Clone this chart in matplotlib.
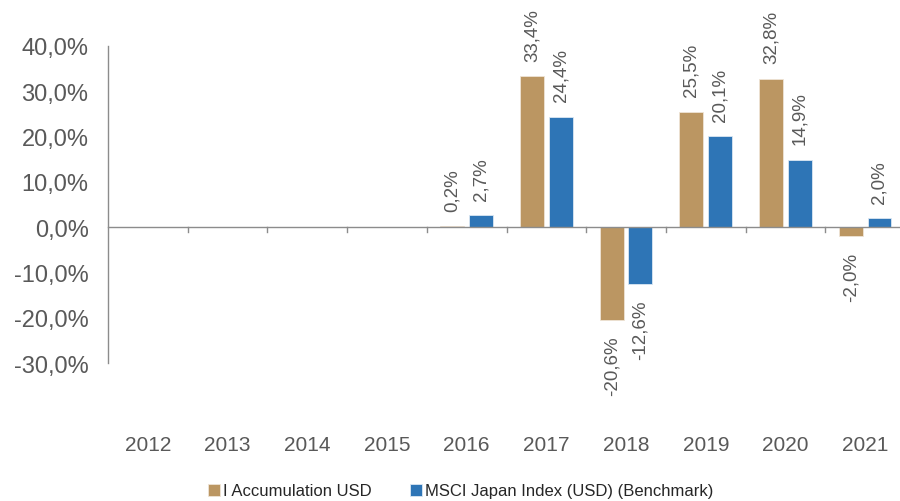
import numpy as np
import matplotlib
matplotlib.use("Agg")
import matplotlib.pyplot as plt

plt.rcParams['font.family'] = ['Liberation Sans', 'DejaVu Sans']

years = ["2012", "2013", "2014", "2015", "2016", "2017", "2018", "2019", "2020", "2021"]
fund = [np.nan, np.nan, np.nan, np.nan, 0.2, 33.4, -20.6, 25.5, 32.8, -2.0]
bench = [np.nan, np.nan, np.nan, np.nan, 2.7, 24.4, -12.6, 20.1, 14.9, 2.0]
series_names = ["I Accumulation USD", "MSCI Japan Index (USD) (Benchmark)"]
yticks = [40, 30, 20, 10, 0, -10, -20, -30]

c_fund = "#BB9662"
c_bench = "#2E75B6"
gray = "#595959"

fig = plt.figure(figsize=(9, 5.02), dpi=100)
W, H = 900, 502
left, right = 108, 905
top_px, bot_px = 47, 364
ax = fig.add_axes([left / W, (H - bot_px) / H, (right - left) / W, (bot_px - top_px) / H])

x = np.arange(len(years))
off = 0.18
w = 0.30
b1 = ax.bar(x - off, fund, w, color=c_fund, edgecolor="#efe4d6", linewidth=0.6, label=series_names[0])
b2 = ax.bar(x + off, bench, w, color=c_bench, edgecolor="#dbe7f3", linewidth=0.6, label=series_names[1])

def fmt(v):
    return f"{v:.1f}%".replace(".", ",")

for xs, vals in ((x - off, fund), (x + off, bench)):
    for xi, v in zip(xs, vals):
        if np.isnan(v):
            continue
        if v >= 0:
            ax.annotate(fmt(v), (xi, v), xytext=(0, 11), textcoords="offset points",
                        rotation=90, ha="center", va="bottom", fontsize=13.5, color=gray,
                        annotation_clip=False)
        else:
            ax.annotate(fmt(v), (xi, v), xytext=(0, -11), textcoords="offset points",
                        rotation=90, ha="center", va="top", fontsize=13.5, color=gray,
                        annotation_clip=False)

ax.set_xlim(-0.5, len(years) - 0.5)
ax.set_ylim(-30, 40)
ax.set_yticks(yticks)
ax.set_yticklabels([fmt(t) for t in yticks], fontsize=17, color=gray)
ax.tick_params(axis="y", length=0, pad=14)

for s in ["top", "right", "bottom"]:
    ax.spines[s].set_visible(False)
ax.spines["left"].set_color("#8c8c8c")
ax.spines["left"].set_linewidth(1.0)

ax.axhline(0, color="#8c8c8c", linewidth=1.0, clip_on=False)
for b in np.arange(0.5, len(years) - 0.5, 1.0):
    ax.plot([b, b], [0, -1.1], color="#8c8c8c", linewidth=1.0, clip_on=False)

ax.set_xticks(x)
ax.set_xticklabels([])
ax.tick_params(axis="x", length=0)
for xi, yr in zip(x, years):
    ax.text(xi, -48.0, yr, ha="center", va="center", fontsize=15, color=gray)

leg = fig.legend(handles=[b1, b2], labels=series_names, loc="center", bbox_to_anchor=(461 / W, 1 - 492 / H),
                 ncol=2, frameon=False, fontsize=12, handlelength=0.7, handleheight=0.7,
                 handletextpad=0.2, columnspacing=2.3)
for t in leg.get_texts():
    t.set_color("#262626")

fig.savefig("out.png", dpi=100)
